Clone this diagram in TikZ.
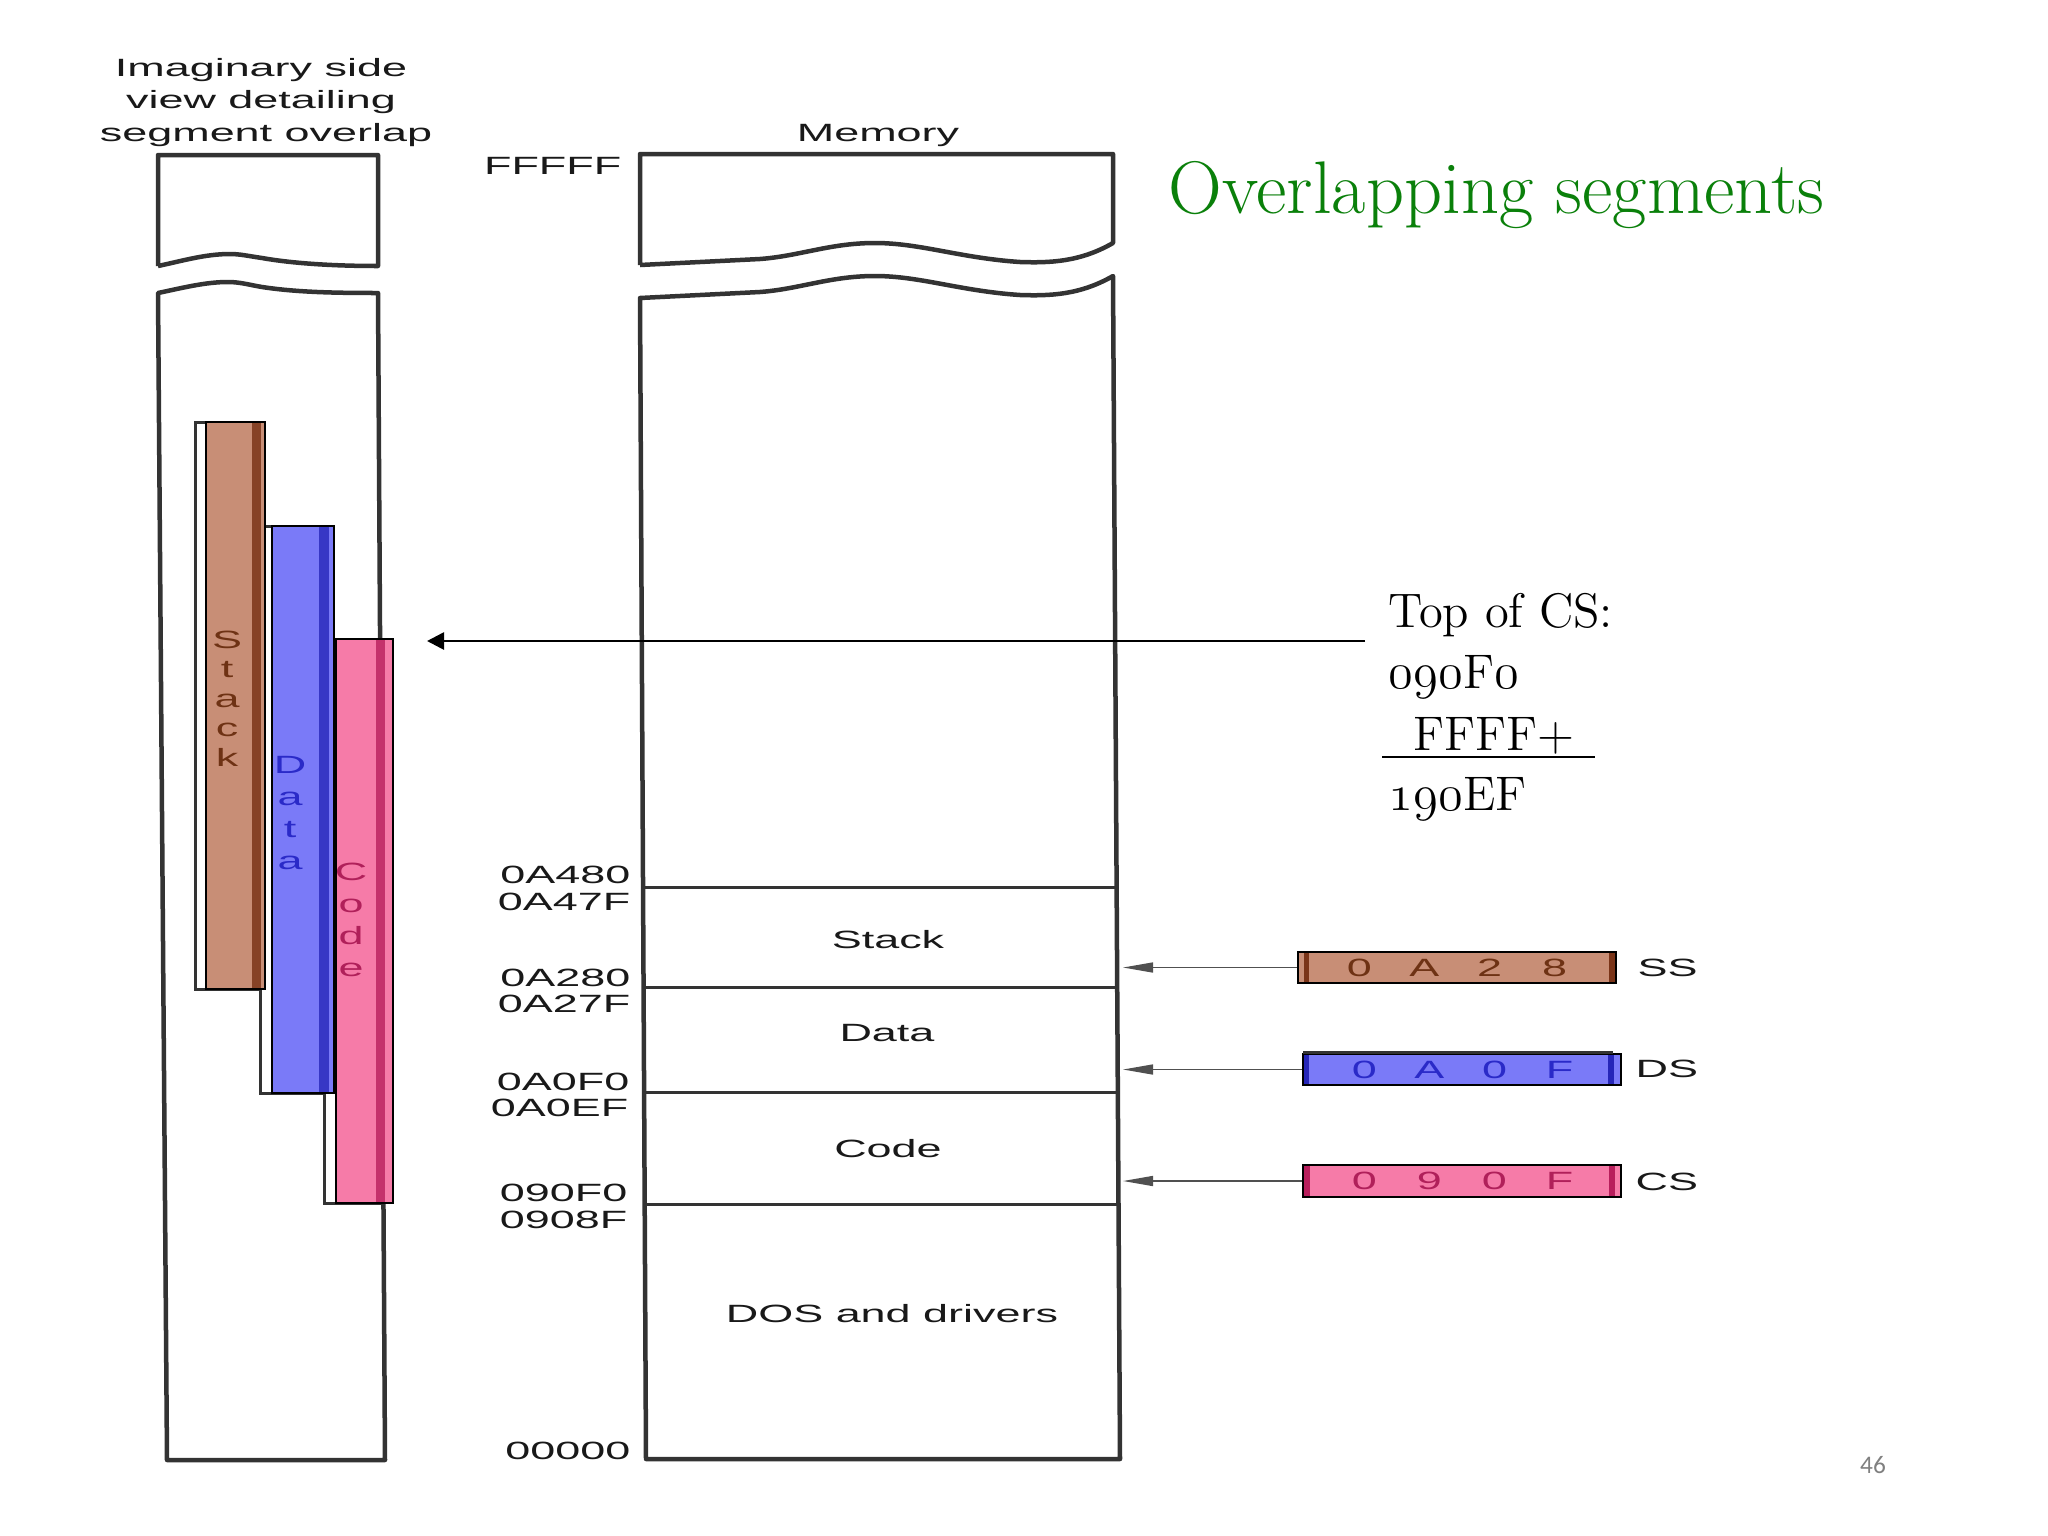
\documentclass[tikz,border=0pt]{standalone}
\usepackage{fontspec}
\usetikzlibrary{arrows.meta}
\newfontfamily\dgfamily[FakeStretch=1.8]{Liberation Sans}
\newfontfamily\pgfamily{Carlito}
\newcommand\dgf{\dgfamily\fontsize{7.1pt}{9.2pt}\selectfont}
\newcommand\rtf{\fontsize{13.8pt}{16pt}\selectfont}
\newcommand\osn[1]{\ensuremath{\mathnormal{#1}}}
\definecolor{lineg}{HTML}{333333}
\definecolor{ssfill}{HTML}{C88E76}
\definecolor{ssdark}{HTML}{7A3418}
\definecolor{sstext}{HTML}{6E3214}
\definecolor{dsfill}{HTML}{7A7AF8}
\definecolor{dsdark}{HTML}{2626B8}
\definecolor{dstext}{HTML}{2A2AC8}
\definecolor{csfill}{HTML}{F67BA8}
\definecolor{csdark}{HTML}{B81E5C}
\definecolor{cstext}{HTML}{B0205A}
\definecolor{titlegreen}{RGB}{10,128,10}
\definecolor{arrgray}{HTML}{505050}
\tikzset{
  boxline/.style={draw=lineg, line width=0.045cm, line join=round},
  memline/.style={draw=lineg, line width=0.03cm},
  segoutline/.style={draw=lineg, line width=0.03cm, fill=white},
  segborder/.style={draw=black, line width=0.025cm},
  dglbl/.style={font=\dgf, text=black!90, inner sep=0},
  addrlbl/.style={dglbl, anchor=base east},
  reglbl/.style={dglbl, anchor=base west},
  regbox/.style={draw=black, line width=0.025cm, inner sep=0, minimum width=3.18cm, font=\dgf},
  regarrow/.style={draw=arrgray, line width=0.015cm, -{Triangle[length=0.3cm,width=0.1cm]}},
  bigarrow/.style={draw=black, line width=0.027cm, -{Triangle[length=0.17cm,width=0.17cm]}},
  rtext/.style={font=\rtf, anchor=base west, inner sep=0},
  vletter/.style={font=\dgf, anchor=base, inner sep=0}
}
\begin{document}
\begin{tikzpicture}[x=0.01cm, y=-0.01cm]
\useasboundingbox (0,0) rectangle (2048,1536);
\fill[white] (0,0) rectangle (2048,1536);

% ---------- left side view ----------
\node[dglbl, anchor=base] (hdr1) at (261,76) {Imaginary side};
\node[dglbl, anchor=base] (hdr2) at (261,108) {view detailing};
\node[dglbl, anchor=base] (hdr3) at (266,141) {segment overlap};

\draw[boxline] (158,266) -- (158,155) -- (378,155) -- (378,266)
  .. controls (330,266) and (290,263) .. (262,258)
  .. controls (248,256) and (240,254) .. (230,254)
  .. controls (205,254) and (182,261) .. (158,266);
\draw[boxline] (167,1460) -- (158,293)
  .. controls (182,288) and (205,282) .. (228,282)
  .. controls (240,282) and (250,285) .. (262,287)
  .. controls (295,292) and (330,293) .. (378,293)
  -- (385,1460) -- cycle;

% segment outlines
\draw[segoutline] (195,422) rectangle (257,989);
\draw[segoutline] (260,526) rectangle (324,1093);
\draw[segoutline] (324,639) rectangle (381,1203);

% coloured overlays
\fill[ssfill] (206,422) rectangle (265,989);
\fill[ssdark!85!ssfill] (252,422) rectangle (261,989);
\draw[segborder] (206,422) rectangle (265,989);

\fill[dsfill] (272,526) rectangle (334,1093);
\fill[dsdark!80!dsfill] (319,526) rectangle (329,1093);
\draw[segborder] (272,526) rectangle (334,1093);

\fill[csfill] (336,639) rectangle (393,1203);
\fill[csdark!80!csfill] (376,639) rectangle (385,1203);
\draw[segborder] (336,639) rectangle (393,1203);

% vertical letters
\foreach \l [count=\i] in {S,t,a,c,k}
  \node[vletter, text=sstext] (stk\i) at (227,{648+29.5*(\i-1)}) {\l};
\foreach \l [count=\i] in {D,a,t,a}
  \node[vletter, text=dstext] (dat\i) at (290,{773+32*(\i-1)}) {\l};
\foreach \l [count=\i] in {C,o,d,e}
  \node[vletter, text=cstext] (cod\i) at (351,{880+32*(\i-1)}) {\l};

% ---------- memory column ----------
\node[dglbl, anchor=base] (memtitle) at (878,141) {Memory};
\node[addrlbl] (aFFFFF) at (622,174) {FFFFF};

\draw[boxline] (640,265) -- (640,154) -- (1113,154) -- (1113,243)
  .. controls (1080,262) and (1050,263) .. (1020,262)
  .. controls (960,258) and (920,243) .. (875,243)
  .. controls (830,243) and (800,256) .. (760,259)
  -- (640,265);
\draw[boxline] (646,1459) -- (640,298) -- (760,292)
  .. controls (800,289) and (830,276) .. (875,276)
  .. controls (920,276) and (960,291) .. (1020,295)
  .. controls (1050,296) and (1080,295) .. (1113,276)
  -- (1120,1459) -- cycle;

\draw[memline] (643.0,887) -- (1116.6,887);
\draw[memline] (643.5,987) -- (1117.2,987);
\draw[memline] (644.1,1092) -- (1117.8,1092);
\draw[memline] (644.7,1204) -- (1118.5,1204);

\node[addrlbl] (a0A480) at (631,883) {0A480};
\node[addrlbl] (a0A47F) at (631,910) {0A47F};
\node[addrlbl] (a0A280) at (631,986) {0A280};
\node[addrlbl] (a0A27F) at (631,1012) {0A27F};
\node[addrlbl] (a0A0F0) at (630,1090) {0A0F0};
\node[addrlbl] (a0A0EF) at (629,1116) {0A0EF};
\node[addrlbl] (a090F0) at (628,1201) {090F0};
\node[addrlbl] (a0908F) at (628,1228) {0908F};
\node[addrlbl] (a00000) at (631,1459) {00000};

\node[dglbl, anchor=base] (mstack) at (888,948) {Stack};
\node[dglbl, anchor=base] (mdata) at (887,1041) {Data};
\node[dglbl, anchor=base] (mcode) at (888,1157) {Code};
\node[dglbl, anchor=base] (mdos) at (892,1322) {DOS and drivers};

% ---------- registers ----------
\coordinate (memR) at (1123,0);
\node[regbox, fill=ssfill, minimum height=0.31cm, text=sstext] (ss) at (1457,967.5)
  {\makebox[0.65cm]{0}\makebox[0.65cm]{A}\makebox[0.65cm]{2}\makebox[0.65cm]{8}};
\node[regbox, fill=dsfill, minimum height=0.31cm, text=dstext] (ds) at (1462,1069.5)
  {\makebox[0.65cm]{0}\makebox[0.65cm]{A}\makebox[0.65cm]{0}\makebox[0.65cm]{F}};
\node[regbox, fill=csfill, minimum height=0.32cm, text=cstext] (cs) at (1462,1181)
  {\makebox[0.65cm]{0}\makebox[0.65cm]{9}\makebox[0.65cm]{0}\makebox[0.65cm]{F}};

\fill[ssdark] (1304,953) rectangle (1309,982);
\fill[ssdark] (1609,953) rectangle (1615,982);
\fill[dsdark] (1304,1055) rectangle (1309,1084);
\fill[dsdark] (1608,1055) rectangle (1614,1084);
\draw[lineg, line width=0.03cm] (1303,1052) -- (1613,1052);
\fill[csdark] (1304,1166) rectangle (1310,1196);
\fill[csdark] (1609,1166) rectangle (1615,1196);

\node[reglbl] (ssl) at (1637,976) {SS};
\node[reglbl] (dsl) at (1635,1077) {DS};
\node[reglbl] (csl) at (1635,1190) {CS};

\draw[regarrow] (ss.west) -- (ss.west -| memR);
\draw[regarrow] (ds.west) -- (ds.west -| memR);
\draw[regarrow] (cs.west) -- (cs.west -| memR);

% ---------- top of CS ----------
\coordinate (topR) at (1365,641);
\coordinate (topL) at (427,641);
\draw[bigarrow] (topR) -- (topL);

\node[rtext] (t1) at (1388,627) {Top of CS:};
\node[rtext] (t2) at (1388,688) {\osn{090}F\osn{0}};
\node[rtext] (t3) at (1413,750) {FFFF+};
\draw[black, line width=0.02cm] (1382,757) -- (1595,757);
\node[rtext] (t4) at (1388,810) {\osn{190}EF};

% ---------- title & page number ----------
\node[anchor=base west, inner sep=0, text=titlegreen, font=\fontsize{21.2pt}{24pt}\selectfont] (title) at (1168,213) {Overlapping segments};
\node[inner sep=0, text=black!50, font=\pgfamily\fontsize{7.2pt}{8pt}\selectfont] (pg) at (1873,1465) {46};
\end{tikzpicture}
\end{document}
